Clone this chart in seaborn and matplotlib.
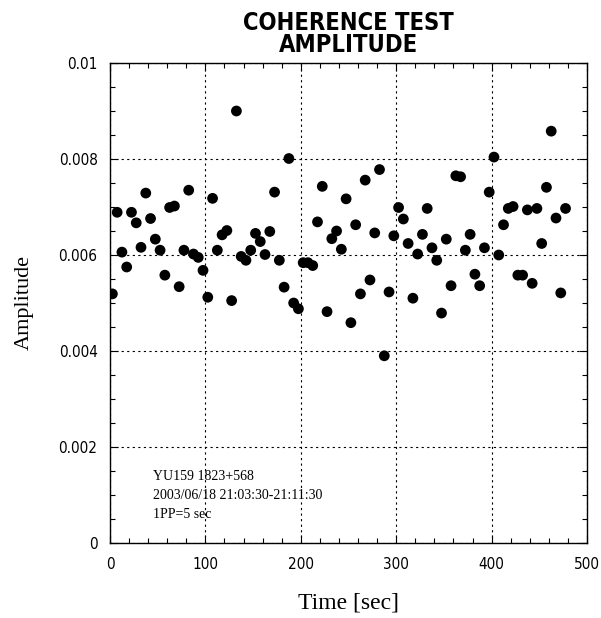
import matplotlib
matplotlib.use("Agg")
import matplotlib.pyplot as plt
from matplotlib.ticker import MultipleLocator, FixedLocator, FixedFormatter
import seaborn as sns
import pandas as pd

time_sec = [2.5, 7.5, 12.5, 17.5, 22.5, 27.5, 32.5, 37.5, 42.5, 47.5,
            52.5, 57.5, 62.5, 67.5, 72.5, 77.5, 82.5, 87.5, 92.5, 97.5,
            102.5, 107.5, 112.5, 117.5, 122.5, 127.5, 132.5, 137.5, 142.5, 147.5,
            152.5, 157.5, 162.5, 167.5, 172.5, 177.5, 182.5, 187.5, 192.5, 197.5,
            202.5, 207.5, 212.5, 217.5, 222.5, 227.5, 232.5, 237.5, 242.5, 247.5,
            252.5, 257.5, 262.5, 267.5, 272.5, 277.5, 282.5, 287.5, 292.5, 297.5,
            302.5, 307.5, 312.5, 317.5, 322.5, 327.5, 332.5, 337.5, 342.5, 347.5,
            352.5, 357.5, 362.5, 367.5, 372.5, 377.5, 382.5, 387.5, 392.5, 397.5,
            402.5, 407.5, 412.5, 417.5, 422.5, 427.5, 432.5, 437.5, 442.5, 447.5,
            452.5, 457.5, 462.5, 467.5, 472.5, 477.5]

amplitude = [0.00519, 0.00689, 0.00606, 0.00575, 0.00689, 0.00667, 0.00616, 0.00729, 0.00676, 0.00633,
             0.00610, 0.00558, 0.00699, 0.00702, 0.00534, 0.00610, 0.00735, 0.00602, 0.00595, 0.00568,
             0.00512, 0.00718, 0.00610, 0.00642, 0.00651, 0.00505, 0.00900, 0.00597, 0.00589, 0.00610,
             0.00645, 0.00628, 0.00601, 0.00649, 0.00731, 0.00589, 0.00533, 0.00801, 0.00500, 0.00488,
             0.00584, 0.00584, 0.00578, 0.00669, 0.00743, 0.00482, 0.00634, 0.00650, 0.00612, 0.00717,
             0.00459, 0.00663, 0.00519, 0.00756, 0.00548, 0.00646, 0.00778, 0.00390, 0.00523, 0.00640,
             0.00699, 0.00675, 0.00624, 0.00510, 0.00602, 0.00643, 0.00697, 0.00615, 0.00589, 0.00479,
             0.00633, 0.00536, 0.00765, 0.00763, 0.00610, 0.00643, 0.00560, 0.00536, 0.00615, 0.00731,
             0.00804, 0.00600, 0.00663, 0.00697, 0.00701, 0.00558, 0.00558, 0.00694, 0.00541, 0.00697,
             0.00624, 0.00741, 0.00858, 0.00677, 0.00521, 0.00697]

x_ticks = [0, 100, 200, 300, 400, 500]
x_tick_labels = ["0", "100", "200", "300", "400", "500"]
y_ticks = [0, 0.002, 0.004, 0.006, 0.008, 0.01]
y_tick_labels = ["0", "0.002", "0.004", "0.006", "0.008", "0.01"]

title_text = "COHERENCE TEST\nAMPLITUDE"
x_label = "Time [sec]"
y_label = "Amplitude"
note_lines = ["YU159 1823+568", "2003/06/18 21:03:30-21:11:30", "1PP=5 sec"]

sns.set_style("ticks")
plt.rcParams['font.family'] = ['DejaVu Sans']
plt.rcParams['text.color'] = 'black'
plt.rcParams['axes.labelcolor'] = 'black'
plt.rcParams['xtick.color'] = 'black'
plt.rcParams['ytick.color'] = 'black'

df = pd.DataFrame({"time": time_sec, "amp": amplitude})

fig = plt.figure(figsize=(6.01, 6.18), dpi=100)
ax = fig.add_axes([110/601, 1 - 543/618, 477/601, 480/618])

sns.scatterplot(data=df, x="time", y="amp", ax=ax, s=60, color="black",
                edgecolor="none", linewidth=0, legend=False, zorder=3)

ax.set_xlim(0, 500)
ax.set_ylim(0, 0.01)
ax.xaxis.set_major_locator(FixedLocator(x_ticks))
ax.xaxis.set_major_formatter(FixedFormatter(x_tick_labels))
ax.yaxis.set_major_locator(FixedLocator(y_ticks))
ax.yaxis.set_major_formatter(FixedFormatter(y_tick_labels))
ax.xaxis.set_minor_locator(MultipleLocator(20))
ax.yaxis.set_minor_locator(MultipleLocator(0.0005))

ax.tick_params(which="both", direction="in", top=True, right=True, colors="black")
ax.tick_params(which="major", length=6, width=0.8, labelsize=11)
ax.tick_params(axis="x", which="major", pad=10)
ax.tick_params(axis="y", which="major", pad=9)
ax.tick_params(which="minor", length=3.5, width=0.8)
for lab in ax.get_xticklabels() + ax.get_yticklabels():
    lab.set_fontstretch("condensed")
    lab.set_color("black")

for sp in ax.spines.values():
    sp.set_visible(True)
    sp.set_color("black")
    sp.set_linewidth(1.0)

ax.grid(True, which="major", color="black", linestyle=(0, (2, 3)), linewidth=0.8)

ax.set_xlabel(x_label, family=["Liberation Serif", "DejaVu Serif"], fontsize=17, color="black")
ax.set_ylabel(y_label, family=["Liberation Serif", "DejaVu Serif"], fontsize=16, color="black")
ax.xaxis.set_label_coords(0.5, (543 - 592) / 480)
ax.yaxis.set_label_coords((34 - 110) / 477, 0.5)

fig.text(348.5/601, 1 - 11/618, title_text, ha="center", va="top",
         family=["DejaVu Sans"], fontweight="bold", color="black",
         fontsize=17, linespacing=0.92, fontstretch="condensed")

for i, line in enumerate(note_lines):
    ax.text(43/477, (543 - 477)/480 - i * (18.5/480), line, transform=ax.transAxes,
            ha="left", va="center", family=["Liberation Serif", "DejaVu Serif"],
            fontsize=10, color="black")

fig.savefig("out.png", dpi=100, facecolor="white")
